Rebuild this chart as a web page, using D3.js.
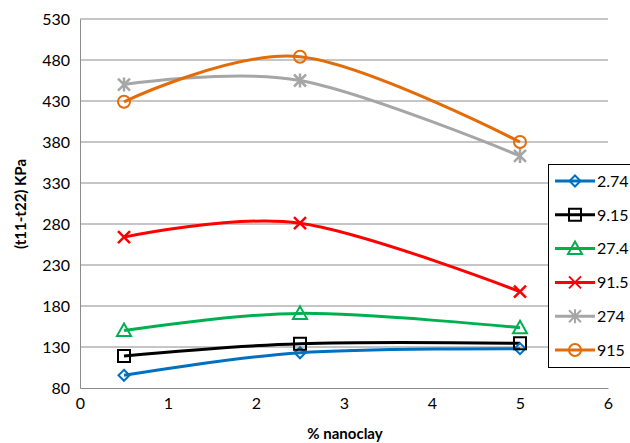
<!DOCTYPE html>
<html><head><meta charset="utf-8">
<script src="https://cdn.jsdelivr.net/npm/d3@7/dist/d3.min.js"></script>
<style>body{margin:0;background:#fff}svg{display:block}text{font-family:Lato,"Open Sans",sans-serif}</style>
</head><body><svg id="c" width="630" height="443"></svg>
<script>
const xValues = [0.5, 2.5, 5];
const seriesNames = ["2.74", "9.15", "27.4", "91.5", "274", "915"];
const s274 = [95.5, 123, 128];
const s915 = [119, 134, 134.5];
const s2740 = [150, 171, 153.5];
const s9150 = [264, 281, 197.5];
const s27400 = [450, 455, 363];
const s91500 = [429, 484, 380];
const seriesValues = [s274, s915, s2740, s9150, s27400, s91500];
const colors = ["#0070C0", "#000000", "#00B050", "#FF0000", "#A6A6A6", "#E36C09"];
const markers = ["diamond", "square", "triangle", "x", "star", "circle"];
const xTicks = [0, 1, 2, 3, 4, 5, 6];
const yTicks = [80, 130, 180, 230, 280, 330, 380, 430, 480, 530];

const svg = d3.select("#c");
const L = 80, R = 608, T = 19, B = 388;
const x = d3.scaleLinear().domain([0, 6]).range([L, R]);
const y = d3.scaleLinear().domain([80, 530]).range([B, T]);

// gridlines
svg.append("g").selectAll("line").data(yTicks.slice(1)).join("line")
  .attr("x1", L).attr("x2", R).attr("y1", d => y(d)).attr("y2", d => y(d))
  .attr("stroke", "#8c8c8c").attr("stroke-width", 1);

// axes
const yAxis = svg.append("g").attr("transform", `translate(${L},0)`)
  .call(d3.axisLeft(y).tickValues(yTicks).tickSize(0).tickPadding(10));
yAxis.select(".domain").attr("stroke", "#8c8c8c");
yAxis.selectAll("text").attr("font-size", 16).attr("fill", "#000");
const xAxis = svg.append("g").attr("transform", `translate(0,${B})`)
  .call(d3.axisBottom(x).tickValues(xTicks).tickFormat(d3.format("d")).tickSize(0).tickPadding(10));
xAxis.select(".domain").attr("stroke", "#8c8c8c");
xAxis.selectAll("text").attr("font-size", 16).attr("fill", "#000");

svg.append("text").attr("transform", "translate(26,204) rotate(-90)")
  .attr("text-anchor", "middle").attr("font-size", 15).attr("font-weight", "bold").text("(t11-t22) KPa");
svg.append("text").attr("x", 345).attr("y", 439)
  .attr("text-anchor", "middle").attr("font-size", 15).attr("font-weight", "bold").text("% nanoclay");

function markerPath(type) {
  switch (type) {
    case "diamond": return "M0,-5.5L5.5,0L0,5.5L-5.5,0Z";
    case "square": return "M-6,-6H6V6H-6Z";
    case "triangle": return "M0,-7L7,5.5H-7Z";
    case "x": return "M-6,-6L6,6M-6,6L6,-6";
    case "star": return "M-6,-6L6,6M-6,6L6,-6M0,-7V7";
    case "circle": return "M6,0A6,6 0 1,1 -6,0A6,6 0 1,1 6,0Z";
  }
}

const line = d3.line().x((d, i) => x(xValues[i])).y(d => y(d)).curve(d3.curveCardinal.tension(0));
const plot = svg.append("g");
seriesValues.forEach((vals, si) => {
  plot.append("path").attr("d", line(vals)).attr("fill", "none")
    .attr("stroke", colors[si]).attr("stroke-width", 3);
});
seriesValues.forEach((vals, si) => {
  plot.append("g").selectAll("path").data(vals).join("path")
    .attr("transform", (d, i) => `translate(${x(xValues[i])},${y(d)})`)
    .attr("d", markerPath(markers[si])).attr("fill", "none")
    .attr("stroke", colors[si]).attr("stroke-width", markers[si] === "x" || markers[si] === "star" ? 2.5 : 2);
});

// legend
const lg = svg.append("g");
lg.append("rect").attr("x", 548.5).attr("y", 164.5).attr("width", 82).attr("height", 203)
  .attr("fill", "#fff").attr("stroke", "#000").attr("stroke-width", 1);
const ly = d3.scalePoint().domain(seriesNames).range([181, 350]);
seriesNames.forEach((n, si) => {
  const yy = ly(n);
  lg.append("line").attr("x1", 555).attr("x2", 595).attr("y1", yy).attr("y2", yy)
    .attr("stroke", colors[si]).attr("stroke-width", 3);
  lg.append("path").attr("transform", `translate(575,${yy})`).attr("d", markerPath(markers[si]))
    .attr("fill", "none").attr("stroke", colors[si]).attr("stroke-width", 2);
  lg.append("text").attr("x", 597).attr("y", yy).attr("dy", "0.36em").attr("font-size", 16).text(n);
});
</script></body></html>
